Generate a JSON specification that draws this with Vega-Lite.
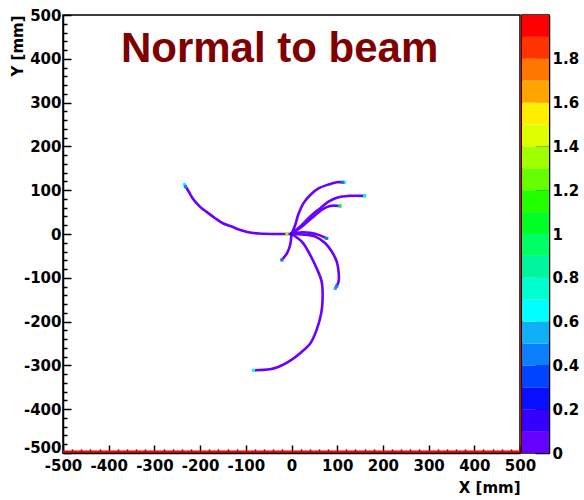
{
  "$schema": "https://vega.github.io/schema/vega-lite/v6.json",
  "background": "white",
  "padding": {"left": 9, "top": 7, "right": 0, "bottom": 0},
  "spacing": 2,
  "bounds": "flush",
  "config": {
    "view": {"stroke": "black", "strokeWidth": 1.5},
    "axis": {
      "grid": false,
      "domainColor": "black",
      "domainWidth": 1.5,
      "tickColor": "black",
      "tickWidth": 1.5,
      "labelColor": "black",
      "labelFont": "DejaVu Sans",
      "labelFontWeight": "bold",
      "labelFontSize": 15,
      "labelOverlap": false,
      "labelFlush": false,
      "titleColor": "black",
      "titleFont": "DejaVu Sans",
      "titleFontWeight": "bold",
      "titleFontSize": 15
    }
  },
  "datasets": {
    "tracks": [
      {"track": "L", "x": 0, "y": 0}, {"track": "L", "x": -40, "y": 0}, {"track": "L", "x": -70, "y": 1}, {"track": "L", "x": -95, "y": 4}, {"track": "L", "x": -112, "y": 9}, {"track": "L", "x": -131, "y": 17}, {"track": "L", "x": -149, "y": 24}, {"track": "L", "x": -167, "y": 36}, {"track": "L", "x": -185, "y": 50}, {"track": "L", "x": -200, "y": 62}, {"track": "L", "x": -214, "y": 78}, {"track": "L", "x": -225, "y": 97}, {"track": "L", "x": -234, "y": 113},
      {"track": "A", "x": 0, "y": 0}, {"track": "A", "x": 8, "y": 20}, {"track": "A", "x": 15, "y": 45}, {"track": "A", "x": 26, "y": 70}, {"track": "A", "x": 41, "y": 89}, {"track": "A", "x": 59, "y": 104}, {"track": "A", "x": 81, "y": 113}, {"track": "A", "x": 99, "y": 118}, {"track": "A", "x": 115, "y": 118},
      {"track": "B", "x": 0, "y": 0}, {"track": "B", "x": 26, "y": 24}, {"track": "B", "x": 44, "y": 43}, {"track": "B", "x": 63, "y": 59}, {"track": "B", "x": 81, "y": 74}, {"track": "B", "x": 103, "y": 84}, {"track": "B", "x": 125, "y": 87}, {"track": "B", "x": 160, "y": 87},
      {"track": "C", "x": 0, "y": 0}, {"track": "C", "x": 23, "y": 17}, {"track": "C", "x": 44, "y": 36}, {"track": "C", "x": 66, "y": 55}, {"track": "C", "x": 84, "y": 64}, {"track": "C", "x": 106, "y": 64},
      {"track": "D", "x": 0, "y": 0}, {"track": "D", "x": 23, "y": 4}, {"track": "D", "x": 44, "y": 2}, {"track": "D", "x": 59, "y": -2}, {"track": "D", "x": 77, "y": -10},
      {"track": "E", "x": 0, "y": 0}, {"track": "E", "x": 23, "y": -1}, {"track": "E", "x": 52, "y": -6}, {"track": "E", "x": 74, "y": -21}, {"track": "E", "x": 88, "y": -40}, {"track": "E", "x": 99, "y": -63}, {"track": "E", "x": 103, "y": -86}, {"track": "E", "x": 103, "y": -109}, {"track": "E", "x": 96, "y": -124},
      {"track": "F", "x": 0, "y": 0}, {"track": "F", "x": -3, "y": -25}, {"track": "F", "x": -10, "y": -44}, {"track": "F", "x": -21, "y": -59},
      {"track": "G", "x": 0, "y": 0}, {"track": "G", "x": 23, "y": -18}, {"track": "G", "x": 41, "y": -48}, {"track": "G", "x": 55, "y": -78}, {"track": "G", "x": 66, "y": -109}, {"track": "G", "x": 68, "y": -151}, {"track": "G", "x": 65, "y": -181}, {"track": "G", "x": 55, "y": -219}, {"track": "G", "x": 41, "y": -250}, {"track": "G", "x": 19, "y": -272}, {"track": "G", "x": -7, "y": -292}, {"track": "G", "x": -28, "y": -303}, {"track": "G", "x": -47, "y": -309}, {"track": "G", "x": -83, "y": -311}
    ],
    "cells": [
      {"x": -234, "y": 113, "v": 0.65}, {"x": -232, "y": 108, "v": 0.45},
      {"x": 115, "y": 118, "v": 0.65}, {"x": 112, "y": 118, "v": 0.45},
      {"x": 160, "y": 87, "v": 0.75},
      {"x": 106, "y": 64, "v": 1.05},
      {"x": 77, "y": -10, "v": 0.45},
      {"x": 96, "y": -124, "v": 0.55}, {"x": 99, "y": -119, "v": 0.45},
      {"x": -21, "y": -59, "v": 0.45},
      {"x": -83, "y": -311, "v": 0.65},
      {"x": -10, "y": 0, "v": 1.3},
      {"x": 0, "y": 0, "v": 0.15}
    ],
    "bar": [
      {"lo": 0, "hi": 0.1}, {"lo": 0.1, "hi": 0.2}, {"lo": 0.2, "hi": 0.3}, {"lo": 0.3, "hi": 0.4}, {"lo": 0.4, "hi": 0.5},
      {"lo": 0.5, "hi": 0.6}, {"lo": 0.6, "hi": 0.7}, {"lo": 0.7, "hi": 0.8}, {"lo": 0.8, "hi": 0.9}, {"lo": 0.9, "hi": 1.0},
      {"lo": 1.0, "hi": 1.1}, {"lo": 1.1, "hi": 1.2}, {"lo": 1.2, "hi": 1.3}, {"lo": 1.3, "hi": 1.4}, {"lo": 1.4, "hi": 1.5},
      {"lo": 1.5, "hi": 1.6}, {"lo": 1.6, "hi": 1.7}, {"lo": 1.7, "hi": 1.8}, {"lo": 1.8, "hi": 1.9}, {"lo": 1.9, "hi": 2.0}
    ]
  },
  "resolve": {"scale": {"y": "independent", "color": "shared"}},
  "hconcat": [
    {
      "width": 457,
      "height": 438,
      "layer": [
        {
          "data": {"name": "tracks"},
          "mark": {"type": "line", "interpolate": "catmull-rom", "strokeWidth": 2.6, "color": "#6a00ff", "strokeCap": "square"},
          "encoding": {
            "x": {
              "field": "x", "type": "quantitative",
              "scale": {"domain": [-500, 500], "nice": false, "zero": false},
              "axis": {
                "orient": "bottom",
                "values": [-500,-480,-460,-440,-420,-400,-380,-360,-340,-320,-300,-280,-260,-240,-220,-200,-180,-160,-140,-120,-100,-80,-60,-40,-20,0,20,40,60,80,100,120,140,160,180,200,220,240,260,280,300,320,340,360,380,400,420,440,460,480,500],
                "tickCount": 100,
                "tickSize": -8,
                "tickDash": {"condition": {"test": "datum.value % 100 !== 0", "value": [4, 20]}, "value": [20, 0]},
                "labelExpr": "datum.value % 100 === 0 ? '' + datum.value : ''",
                "labelOverlap": false,
                "labelPadding": 13,
                "title": "X [mm]",
                "titleX": 457,
                "titleY": 39,
                "titleAlign": "right",
                "titleBaseline": "alphabetic",
                "titleAnchor": null
              }
            },
            "y": {
              "field": "y", "type": "quantitative",
              "scale": {"domain": [-500, 500], "nice": false, "zero": false},
              "axis": {
                "orient": "left",
                "values": [-500,-480,-460,-440,-420,-400,-380,-360,-340,-320,-300,-280,-260,-240,-220,-200,-180,-160,-140,-120,-100,-80,-60,-40,-20,0,20,40,60,80,100,120,140,160,180,200,220,240,260,280,300,320,340,360,380,400,420,440,460,480,500],
                "tickCount": 100,
                "tickSize": -8,
                "tickDash": {"condition": {"test": "datum.value % 100 !== 0", "value": [4, 20]}, "value": [20, 0]},
                "labelExpr": "datum.value % 100 === 0 ? '' + datum.value : ''",
                "labelOffset": {"condition": {"test": "datum.value === -500", "value": -6}, "value": 0},
                "labelOverlap": false,
                "labelPadding": 10,
                "title": "Y [mm]",
                "titleAngle": -90,
                "titleX": -38,
                "titleY": 0,
                "titleAlign": "right",
                "titleBaseline": "bottom",
                "titleAnchor": null
              }
            },
            "detail": {"field": "track"},
            "order": {"value": null}
          }
        },
        {
          "data": {"name": "cells"},
          "mark": {"type": "square", "size": 10, "opacity": 1, "filled": true},
          "encoding": {
            "x": {"field": "x", "type": "quantitative"},
            "y": {"field": "y", "type": "quantitative"},
            "color": {
              "field": "v", "type": "quantitative",
              "scale": {
                "type": "threshold",
                "domain": [0.1,0.2,0.3,0.4,0.5,0.6,0.7,0.8,0.9,1.0,1.1,1.2,1.3,1.4,1.5,1.6,1.7,1.8,1.9],
                "range": ["#6600ff","#3300ff","#0a10ff","#0044ff","#0a80ff","#10b0f8","#00ffff","#00ffd0","#00f5a0","#00ff66","#00ff22","#22ff00","#66ff00","#a0ff00","#ddff00","#ffee00","#ffa500","#ff7700","#ff3300","#ff0000"]
              },
              "legend": null
            }
          }
        },
        {
          "data": {"values": [{}]},
          "mark": {"type": "rule", "color": "#ff0000", "strokeWidth": 2, "yOffset": -1.5},
          "encoding": {"x": {"datum": -500}, "x2": {"datum": 500}, "y": {"datum": -500}}
        },
        {
          "data": {"values": [{}]},
          "mark": {"type": "rule", "color": "#ff0000", "strokeWidth": 2, "xOffset": 1.5},
          "encoding": {"x": {"datum": 500}, "y": {"datum": -500}, "y2": {"datum": 500}}
        },
        {
          "data": {"values": [{}]},
          "mark": {"type": "text", "text": "Normal to beam", "font": "Liberation Sans", "fontSize": 42, "fontWeight": "bold", "color": "#800000", "align": "center", "baseline": "alphabetic"},
          "encoding": {"x": {"datum": -26}, "y": {"datum": 393}}
        }
      ]
    },
    {
      "width": 27,
      "height": 438,
      "data": {"name": "bar"},
      "mark": {"type": "rect"},
      "encoding": {
        "y": {
          "field": "lo", "type": "quantitative",
          "scale": {"domain": [0, 2], "nice": false, "zero": false},
          "axis": {
            "orient": "right",
            "values": [0, 0.2, 0.4, 0.6, 0.8, 1, 1.2, 1.4, 1.6, 1.8],
            "tickCount": 20,
            "tickSize": -14,
            "labelPadding": 17,
            "labelExpr": "'' + datum.value",
            "title": null
          }
        },
        "y2": {"field": "hi"},
        "color": {
          "field": "lo", "type": "quantitative",
          "scale": {
            "type": "threshold",
            "domain": [0.1,0.2,0.3,0.4,0.5,0.6,0.7,0.8,0.9,1.0,1.1,1.2,1.3,1.4,1.5,1.6,1.7,1.8,1.9],
            "range": ["#6600ff","#3300ff","#0a10ff","#0044ff","#0a80ff","#10b0f8","#00ffff","#00ffd0","#00f5a0","#00ff66","#00ff22","#22ff00","#66ff00","#a0ff00","#ddff00","#ffee00","#ffa500","#ff7700","#ff3300","#ff0000"]
          },
          "legend": null
        }
      }
    }
  ]
}
